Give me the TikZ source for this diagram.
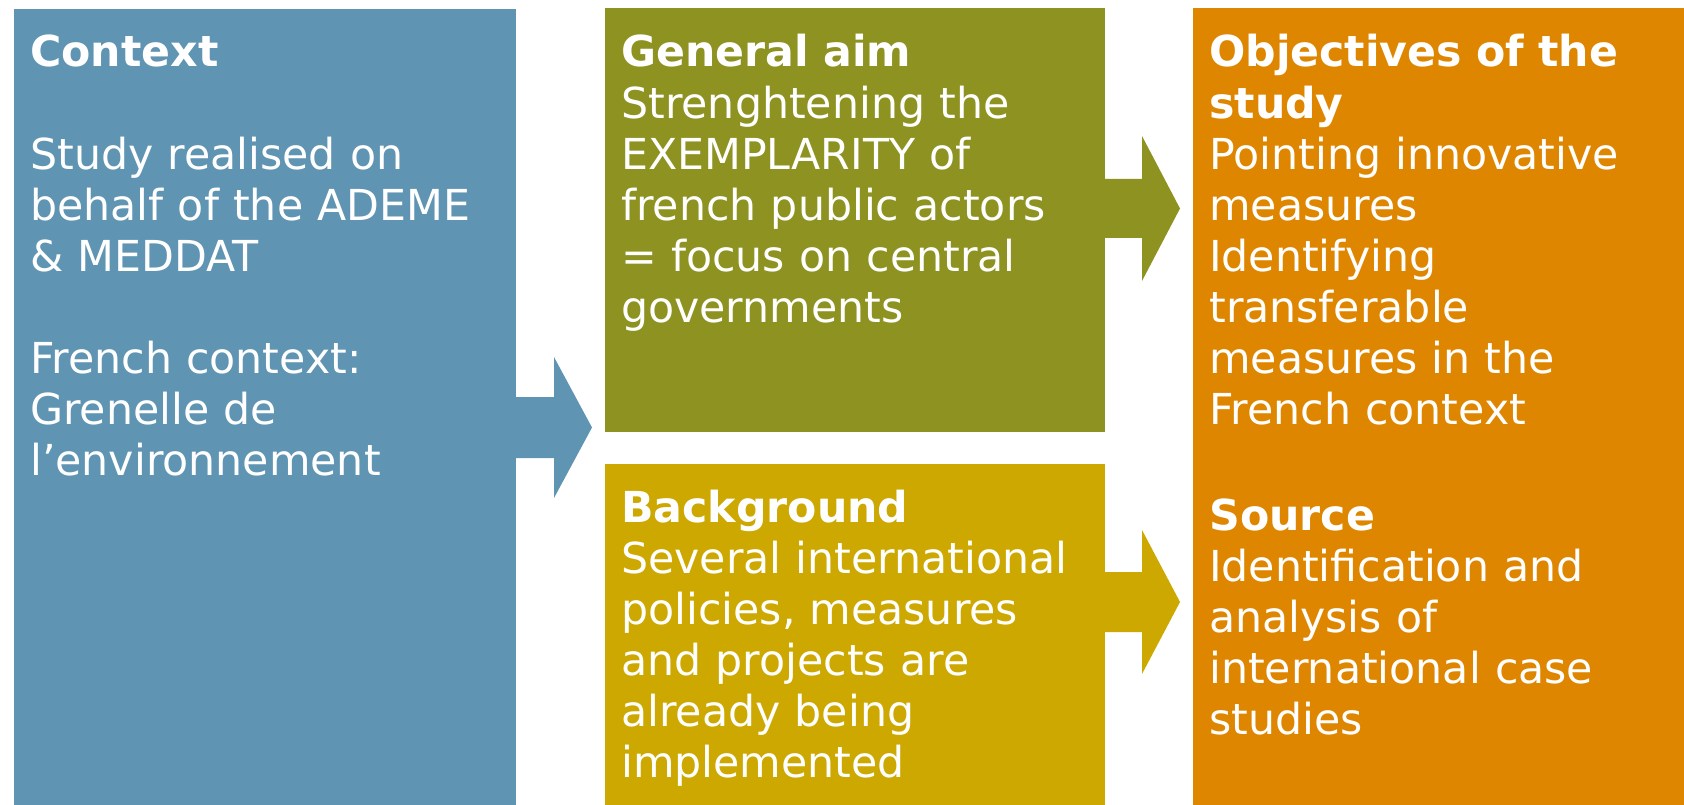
\documentclass[tikz,border=0pt]{standalone}
\usepackage{fontspec}
\setmainfont{DejaVu Sans}
\usepackage{tikz}
\usetikzlibrary{fit}

\definecolor{ctxblue}{RGB}{95,148,179}
\definecolor{aimolive}{RGB}{141,146,33}
\definecolor{bggold}{RGB}{205,168,0}
\definecolor{objorange}{RGB}{223,134,0}

\begin{document}
\begin{tikzpicture}[x=0.75pt,y=-0.75pt]

  \tikzstyle{panel}=[inner sep=0pt,outer sep=0pt]
  \tikzstyle{txt}=[anchor=base west,inner sep=0pt,align=left,text=white,
    font=\fontsize{32}{38.3}\selectfont,text width=360pt]

  \useasboundingbox (0,0) rectangle (1684,805);

  % panels
  \node[panel,fill=ctxblue,fit={(14,9) (516,805)}] (context) {};
  \node[panel,fill=aimolive,fit={(605,8) (1105,432)}] (aim) {};
  \node[panel,fill=bggold,fit={(605,464) (1105,805)}] (background) {};
  \node[panel,fill=objorange,fit={(1193,8) (1684,805)}] (objectives) {};

  % block arrows
  \fill[ctxblue] (context.east |- 0,397) -- (554,397) -- (554,357) -- (592,427.5)
    -- (554,498) -- (554,458) -- (context.east |- 0,458) -- cycle;
  \fill[aimolive] (aim.east |- 0,179) -- (1142,179) -- (1142,136) -- (1180,208.5)
    -- (1142,281) -- (1142,238) -- (aim.east |- 0,238) -- cycle;
  \fill[bggold] (background.east |- 0,572) -- (1142,572) -- (1142,530) -- (1180,602)
    -- (1142,674) -- (1142,632) -- (background.east |- 0,632) -- cycle;

  % texts
  \node[txt] (contexttxt) at (30,67) {\textbf{Context}\\[38.3pt]
    Study realised on\\ behalf of the ADEME\\ \& MEDDAT\\[38.3pt]
    French context:\\ Grenelle de\\ l’environnement};
  \node[txt] (aimtxt) at (621,67) {\textbf{General aim}\\
    Strenghtening the\\ EXEMPLARITY of\\ french public actors\\
    = focus on central\\ governments};
  \node[txt] (bgtxt) at (621,522) {\textbf{Background}\\
    Several international\\ policies, measures\\ and projects are\\
    already being\\ implemented};
  \node[txt] (objtxt) at (1209,67) {\textbf{Objectives of the}\\ \textbf{study}\\
    Pointing innovative\\ measures\\ Identifying\\ transferable\\
    measures in the\\ French context\\[41pt]
    \textbf{Source}\\ Identification and\\ analysis of\\
    international case\\ studies};

\end{tikzpicture}
\end{document}
